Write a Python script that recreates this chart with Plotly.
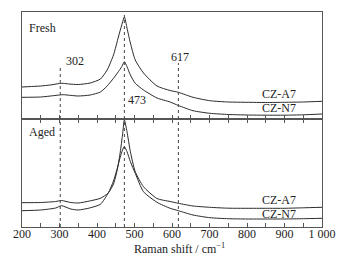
import plotly.graph_objects as go

# Raman shift (cm^-1) sample points and intensities (a.u.)
fresh_a7_x = [200, 225, 250, 275, 300, 310, 325, 350, 382, 409, 427, 444, 457, 466, 473,
              480, 489, 502, 524, 560, 595, 617, 656, 701, 750, 800, 850, 900, 950, 1000]
fresh_a7_y = [32, 32.5, 33, 34, 35.5, 35.7, 35, 34.5, 36, 40, 49, 64, 82, 94, 102,
              91, 76, 59, 46, 33, 28.5, 26.7, 21.7, 18.3, 17, 16.7, 16.5, 16.7, 17, 17.7]

fresh_n7_x = [200, 250, 300, 310, 350, 382, 409, 427, 444, 457, 466, 473,
              480, 489, 502, 524, 560, 595, 617, 656, 701, 750, 800, 850, 900, 950, 1000]
fresh_n7_y = [21.7, 22, 24, 24.3, 23, 24, 27, 33, 40.7, 47.3, 52.3, 57.3,
              52.3, 44, 35.7, 29, 21, 17, 13.5, 8.3, 5.7, 4.5, 4, 3.8, 3.8, 4.2, 5]

aged_a7_x = [200, 250, 290, 305, 330, 350, 380, 409, 430, 444, 455, 462, 468, 473,
             480, 489, 502, 524, 560, 595, 617, 656, 701, 750, 800, 850, 900, 950, 1000]
aged_a7_y = [24.3, 24.5, 25.5, 26.5, 24.5, 24, 26, 28.7, 34, 43, 59, 75, 92, 107,
             95.3, 75.3, 55.3, 40.3, 28.5, 25.5, 23.7, 21, 19.7, 18.8, 18.7, 18.7, 18.7, 19.2, 19.7]

aged_n7_x = [200, 250, 290, 305, 330, 350, 380, 409, 430, 444, 455, 462, 468, 473,
             480, 489, 502, 524, 560, 595, 617, 656, 701, 750, 800, 850, 900, 950, 1000]
aged_n7_y = [16.3, 17, 19, 21.3, 18, 17, 19, 22.7, 34, 46, 60, 70, 77, 80.3,
             75.3, 65.3, 53.7, 35.3, 24.7, 18.7, 16.3, 12, 9.3, 8.3, 8, 8, 8, 8.3, 8.7]

peak_positions = [302, 473, 617]
peak_labels = ["302", "473", "617"]
x_ticks = [200, 300, 400, 500, 600, 700, 800, 900, 1000]
x_tick_labels = ["200", "300", "400", "500", "600", "700", "800", "900", "1 000"]

FONT = "Liberation Serif, Times New Roman, serif"
LINE = "#2a2a2a"
AX = "#555555"

fig = go.Figure()
line_style = dict(color=LINE, width=1, shape="spline", smoothing=0.6)
fig.add_trace(go.Scatter(x=fresh_a7_x, y=fresh_a7_y, mode="lines", line=line_style, xaxis="x", yaxis="y"))
fig.add_trace(go.Scatter(x=fresh_n7_x, y=fresh_n7_y, mode="lines", line=line_style, xaxis="x", yaxis="y"))
fig.add_trace(go.Scatter(x=aged_a7_x, y=aged_a7_y, mode="lines", line=line_style, xaxis="x2", yaxis="y2"))
fig.add_trace(go.Scatter(x=aged_n7_x, y=aged_n7_y, mode="lines", line=line_style, xaxis="x2", yaxis="y2"))

split = (227 - 119) / 215.0

common_x = dict(range=[200, 1000], tickvals=x_ticks, showline=True, linecolor=AX, linewidth=1,
                ticks="inside", ticklen=4, tickcolor=AX, zeroline=False, showgrid=False,
                minor=dict(dtick=50, tick0=0, ticks="inside", ticklen=4, tickcolor=AX))
fig.update_layout(
    xaxis=dict(common_x, domain=[0, 1], anchor="y", showticklabels=False, mirror=True),
    yaxis=dict(domain=[split, 1], range=[0, 107], showline=True, linecolor=AX, mirror=True,
               showticklabels=False, ticks="", showgrid=False, zeroline=False),
    xaxis2=dict(common_x, domain=[0, 1], anchor="y2", ticktext=x_tick_labels, mirror="ticks",
                ticklabelstandoff=-4,
                tickfont=dict(family=FONT, size=12, color="#222")),
    yaxis2=dict(domain=[0, split], range=[0, 108], showline=True, linecolor=AX, mirror=True,
                showticklabels=False, ticks="", showgrid=False, zeroline=False),
    width=357, height=265,
    margin=dict(l=21.5, r=35, t=12, b=38),
    paper_bgcolor="white", plot_bgcolor="white",
    showlegend=False,
    font=dict(family=FONT, size=12, color="#222"),
)

# dashed reference lines
tops = [(227 - 68) / 215.0, (227 - 15) / 215.0, (227 - 63) / 215.0]
for xp, yt in zip(peak_positions, tops):
    fig.add_shape(type="line", xref="x", yref="paper", x0=xp, x1=xp, y0=0, y1=yt,
                  line=dict(color="#444", width=1, dash="dot"))

ann = []
ann.append(dict(text=peak_labels[0], x=340, y=(227 - 61) / 215.0, xanchor="center"))
ann.append(dict(text=peak_labels[1], x=478, y=(227 - 100) / 215.0, xanchor="left"))
ann.append(dict(text=peak_labels[2], x=620, y=(227 - 57) / 215.0, xanchor="center"))
ann.append(dict(text="Fresh", x=212, y=(227 - 28) / 215.0, xanchor="left"))
ann.append(dict(text="Aged", x=212, y=(227 - 132) / 215.0, xanchor="left"))
ann.append(dict(text="CZ-A7", x=886, y=(227 - 94) / 215.0, xanchor="center"))
ann.append(dict(text="CZ-N7", x=886, y=(227 - 108) / 215.0, xanchor="center"))
ann.append(dict(text="CZ-A7", x=886, y=(227 - 200) / 215.0, xanchor="center"))
ann.append(dict(text="CZ-N7", x=886, y=(227 - 214) / 215.0, xanchor="center"))
for a in ann:
    fig.add_annotation(xref="x", yref="paper", yanchor="middle", showarrow=False,
                       font=dict(family=FONT, size=12, color="#222"), **a)
fig.add_annotation(text="Raman shift / cm<sup>−1</sup>", xref="paper", yref="paper",
                   x=(179 - 21.5) / 300.5, y=(227 - 249) / 215.0, xanchor="center", yanchor="middle",
                   showarrow=False, font=dict(family=FONT, size=12, color="#222"))

fig.write_html("out.html", config={"displayModeBar": False},
               post_script="document.body.style.margin='0';document.body.style.padding='0';document.body.style.overflow='hidden';")
